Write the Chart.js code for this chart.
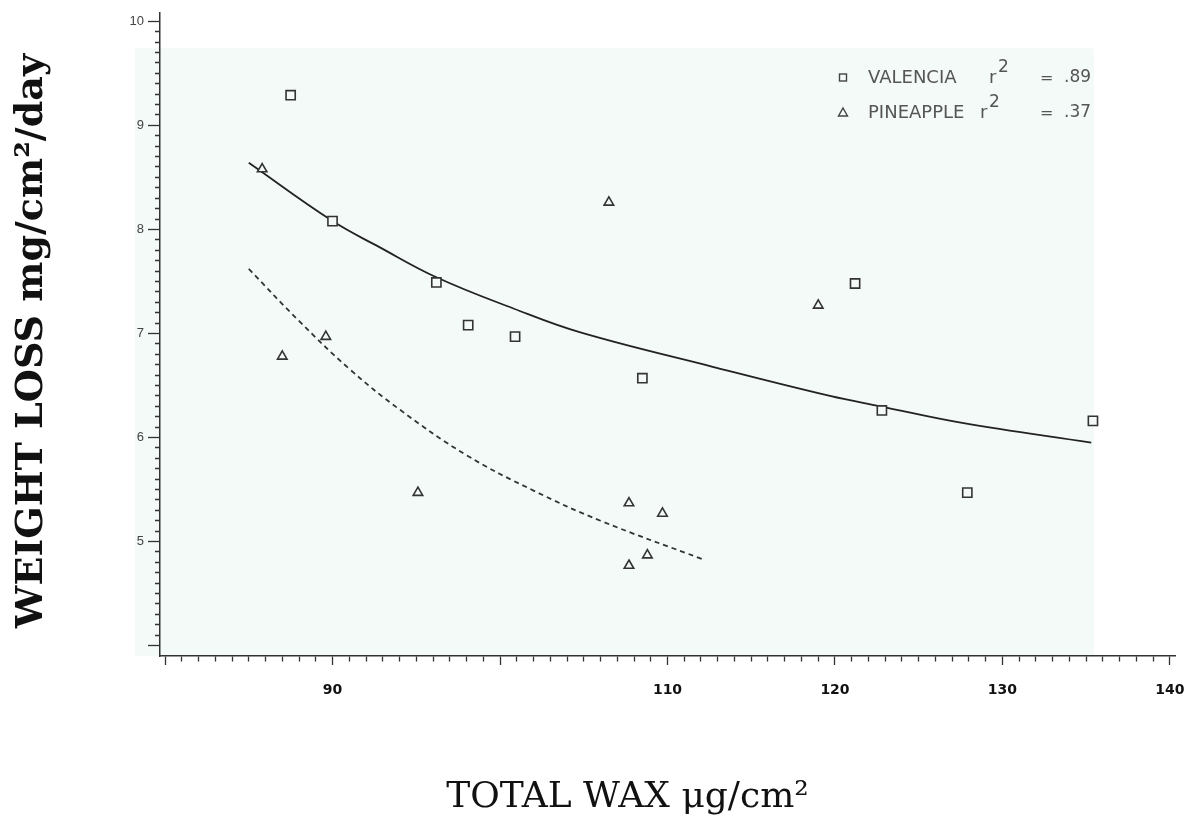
<!DOCTYPE html>
<html>
<head>
<meta charset="utf-8">
<script src="https://cdn.jsdelivr.net/npm/chart.js@4.4.1/dist/chart.umd.min.js"></script>
<style>
    body { margin: 0; background: #fff; }
    #wrap { width: 1189px; height: 823px; }
</style>
</head>
<body>
<div id="wrap"><canvas id="myChart"></canvas></div>
<script>
// total wax (ug/cm2) vs weight loss (mg/cm2/day)
const valenciaWax = [87.5, 90.0, 96.2, 98.1, 100.9, 108.5, 121.2, 122.8, 127.9, 135.4];
const valenciaLoss = [9.29, 8.08, 7.49, 7.08, 6.97, 6.57, 7.48, 6.26, 5.47, 6.16];
const pineappleWax = [85.8, 87.0, 89.6, 95.1, 106.5, 107.7, 109.7, 108.8, 107.7, 119.0];
const pineappleLoss = [8.58, 6.78, 6.97, 5.47, 8.26, 5.37, 5.27, 4.87, 4.77, 7.27];

// fitted curves
const valenciaFitWax = [85.0, 90.0, 92.8, 96.2, 100.8, 104.8, 112.7, 119.7, 122.7, 127.6, 135.3];
const valenciaFitLoss = [8.64, 8.08, 7.83, 7.54, 7.24, 7.01, 6.68, 6.40, 6.30, 6.14, 5.95];
const pineappleFitWax = [85.0, 88.0, 91.0, 94.0, 98.0, 102.0, 106.0, 112.1];
const pineappleFitLoss = [7.62, 7.12, 6.66, 6.27, 5.83, 5.49, 5.20, 4.83];

const keyNames = ["VALENCIA", "PINEAPPLE"];
const keyR2 = [".89", ".37"];

const xLabelTicks = [90, 110, 120, 130, 140];
const yLabelTicks = [5, 6, 7, 8, 9, 10];

var toPoints = (xs, ys) => xs.map((x, i) => ({ x: x, y: ys[i] }));

var isWhole = (v, step) => Math.abs(v / step - Math.round(v / step)) < 1e-6;

var shadeColor = '#f3faf8';

// faint tint of the scanned plot area
var plotShade = {
    id: 'plotShade',
    beforeDraw: (chart) => {
        const { ctx, chartArea, scales } = chart;
        const right = scales.x.getPixelForValue(135.45);
        const top = scales.y.getPixelForValue(9.74);
        ctx.save();
        ctx.fillStyle = shadeColor;
        ctx.fillRect(chartArea.left - 25, top, right - chartArea.left + 25, chartArea.bottom - top);
        ctx.restore();
    }
};

// key in the upper right corner
var cornerKey = {
    id: 'cornerKey',
    afterDraw: (chart) => {
        const ctx = chart.ctx;
        const rows = [78, 113];
        const rX = [989, 980];
        ctx.save();
        ctx.strokeStyle = '#444';
        ctx.lineWidth = 1.4;
        ctx.strokeRect(839.5, rows[0] - 4, 7, 7);
        ctx.beginPath();
        ctx.moveTo(843, rows[1] - 5);
        ctx.lineTo(847.5, rows[1] + 3);
        ctx.lineTo(838.5, rows[1] + 3);
        ctx.closePath();
        ctx.stroke();

        ctx.fillStyle = '#555';
        ctx.textBaseline = 'middle';
        for (let i = 0; i < keyNames.length; i++) {
            ctx.font = '18px "DejaVu Sans"';
            ctx.fillText(keyNames[i], 868, rows[i]);
            ctx.fillText("r", rX[i], rows[i]);
            ctx.font = '16px "DejaVu Sans"';
            ctx.fillText("=", 1040, rows[i] + 1);
            ctx.font = '17px "DejaVu Sans"';
            ctx.fillText(keyR2[i], 1064, rows[i]);
            ctx.font = '17px "DejaVu Sans"';
            ctx.fillText("2", rX[i] + 9, rows[i] - 10);
        }
        ctx.restore();
    }
};

var ctx = document.getElementById('myChart').getContext('2d');

var myScatter = new Chart(ctx, {
    type: 'scatter',
    data: {
        datasets: [{
            label: 'VALENCIA',
            data: toPoints(valenciaWax, valenciaLoss),
            pointStyle: 'rect',
            pointRadius: 6.5,
            borderWidth: 1.6,
            borderColor: '#333',
            backgroundColor: shadeColor
        },
        {
            label: 'PINEAPPLE',
            data: toPoints(pineappleWax, pineappleLoss),
            pointStyle: 'triangle',
            pointRadius: 5.5,
            borderWidth: 1.6,
            borderColor: '#333',
            backgroundColor: shadeColor
        },
        {
            label: 'Valencia fit',
            data: toPoints(valenciaFitWax, valenciaFitLoss),
            showLine: true,
            pointRadius: 0,
            borderColor: '#222',
            borderWidth: 1.8,
            tension: 0.4
        },
        {
            label: 'Pineapple fit',
            data: toPoints(pineappleFitWax, pineappleFitLoss),
            showLine: true,
            pointRadius: 0,
            borderColor: '#333',
            borderWidth: 1.8,
            borderDash: [5, 4],
            tension: 0.4
        }]
    },
    options: {
        responsive: true,
        maintainAspectRatio: false,
        animation: false,
        layout: { padding: { top: 13, right: 14, left: 0, bottom: 0 } },
        plugins: {
            legend: { display: false },
            tooltip: { enabled: false }
        },
        scales: {
            x: {
                type: 'linear',
                min: 79.7,
                max: 140.3,
                afterBuildTicks: (axis) => {
                    axis.ticks = axis.ticks.filter(t => isWhole(t.value, 1) && t.value >= 80 && t.value <= 140);
                },
                afterFit: (axis) => {
                    axis.height = 167;
                    axis.paddingLeft = 0;
                    axis.paddingRight = 0;
                },
                ticks: {
                    stepSize: 1,
                    includeBounds: false,
                    autoSkip: false,
                    maxRotation: 0,
                    padding: 17,
                    color: '#111',
                    font: { family: 'DejaVu Sans', size: 14, weight: 'bold' },
                    callback: (v) => (isWhole(v, 1) && xLabelTicks.includes(Math.round(v))) ? String(Math.round(v)) : ''
                },
                grid: {
                    drawOnChartArea: false,
                    tickLength: 9,
                    tickColor: '#333',
                    tickWidth: 1.3,
                    tickBorderDash: (c) => (c.tick && isWhole(c.tick.value, 10)) ? [] : [5, 40]
                },
                border: { color: '#333', width: 1.5 },
                title: {
                    display: true,
                    text: 'TOTAL WAX \u03bcg/cm\u00b2' + '\u00a0'.repeat(7),
                    color: '#111',
                    font: { family: 'DejaVu Serif', size: 36 },
                    padding: { top: 0, bottom: 4 }
                }
            },
            y: {
                min: 3.9,
                max: 10.08,
                afterBuildTicks: (axis) => {
                    axis.ticks = axis.ticks.filter(t => isWhole(t.value, 0.1) && t.value > 3.95 && t.value < 10.01);
                },
                afterFit: (axis) => {
                    axis.width = 160;
                    axis.paddingTop = 0;
                    axis.paddingBottom = 0;
                },
                ticks: {
                    stepSize: 0.1,
                    includeBounds: false,
                    autoSkip: false,
                    padding: 4,
                    color: '#444',
                    font: { family: 'Liberation Sans', size: 13 },
                    callback: (v) => (isWhole(v, 1) && yLabelTicks.includes(Math.round(v))) ? String(Math.round(v)) : ''
                },
                grid: {
                    drawOnChartArea: false,
                    tickLength: 12,
                    tickColor: '#333',
                    tickWidth: 1.3,
                    tickBorderDash: (c) => (c.tick && isWhole(c.tick.value, 1)) ? [] : [0, 7, 5, 40]
                },
                border: { color: '#333', width: 1.5 },
                title: {
                    display: true,
                    text: 'WEIGHT LOSS mg/cm\u00b2/day\u00a0',
                    color: '#111',
                    font: { family: 'DejaVu Serif', size: 38, weight: 'bold' },
                    padding: { top: 9, bottom: 0 }
                }
            }
        }
    },
    plugins: [plotShade, cornerKey]
});
</script>
</body>
</html>
